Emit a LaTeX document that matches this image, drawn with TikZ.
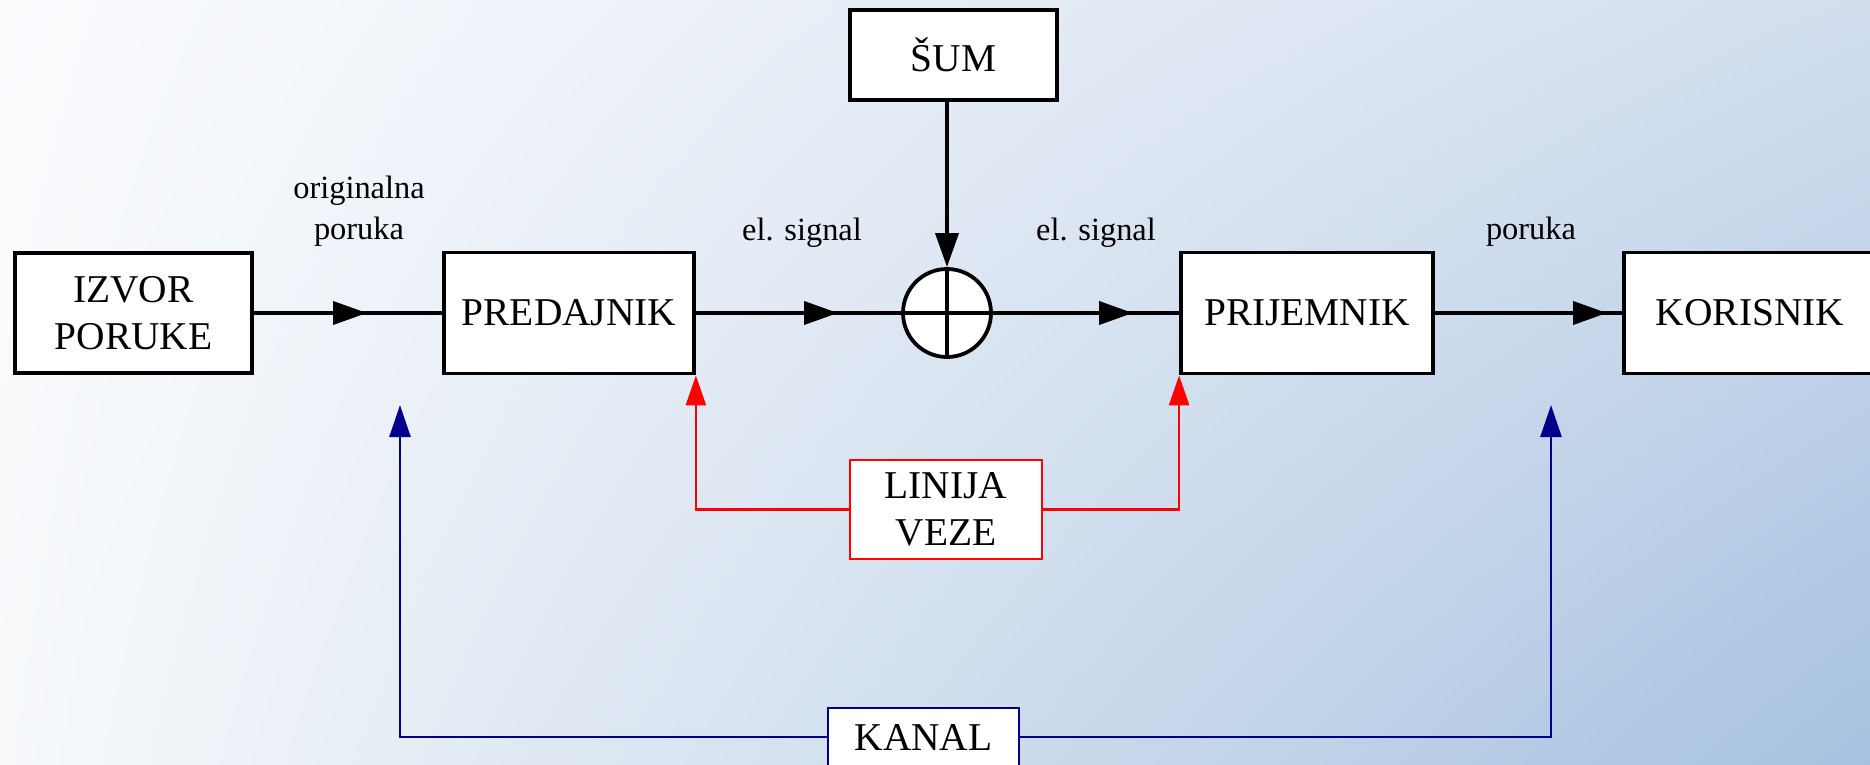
\documentclass[tikz,border=0pt]{standalone}
\usepackage{fontspec}
\setmainfont{Liberation Serif}
\usetikzlibrary{arrows.meta,shadings}
\definecolor{bgUL}{HTML}{FBFCFE}
\definecolor{bgUR}{HTML}{D2DEEE}
\definecolor{bgLL}{HTML}{F7F9FB}
\definecolor{bgLR}{HTML}{A6C1E0}
\definecolor{kanalblue}{RGB}{0,0,140}
\definecolor{linred}{RGB}{255,0,0}
\newcommand\bigfnt{\fontsize{19.7}{23.5}\selectfont}
\newcommand\smallfnt{\fontsize{16.2}{20.5}\selectfont}
\begin{document}
\begin{tikzpicture}[x=0.5pt,y=-0.5pt,
  blockbox/.style={draw=black, line width=1.9pt, fill=white, font=\bigfnt, align=center, inner sep=0pt},
  redbox/.style={draw=linred, line width=1.3pt, fill=white, font=\bigfnt, align=center, inner sep=0pt},
  bluebox/.style={draw=kanalblue, line width=1.3pt, fill=white, font=\bigfnt, align=center, inner sep=0pt},
  sigline/.style={draw=black, line width=1.9pt},
  sigarrow/.style={draw=black, line width=1.9pt, -{Triangle[length=17pt,width=11.5pt]}},
  redarrow/.style={draw=linred, line width=1.3pt, -{Triangle[length=15pt,width=10pt]}},
  bluearrow/.style={draw=kanalblue, line width=1.3pt, -{Triangle[length=16pt,width=10.5pt]}},
  lbl/.style={font=\smallfnt, align=center, inner sep=0pt}
]
\useasboundingbox (0,0) rectangle (1870,765);
\clip (0,0) rectangle (1870,765);
\shade[upper left=bgUL, upper right=bgUR, lower left=bgLL, lower right=bgLR] (0,0) rectangle (1870,765);

% blocks
\node[blockbox, minimum width=118.5pt, minimum height=60pt] (izvor) at (133.5,313) {IZVOR\\PORUKE};
\node[blockbox, minimum width=125pt, minimum height=60.5pt] (pred) at (569,313) {PREDAJNIK};
\node[blockbox, minimum width=126pt, minimum height=60.5pt] (prij) at (1307,313) {PRIJEMNIK};
\node[blockbox, minimum width=126pt, minimum height=60.5pt] (kor) at (1750,313) {KORISNIK};
\node[blockbox, minimum width=103.5pt, minimum height=45pt] (sum) at (953.5,55) {ŠUM};
\node[circle, draw=black, line width=1.9pt, fill=white, minimum size=44pt, inner sep=0pt] (add) at (947,313) {};
\node[redbox, minimum width=96pt, minimum height=49.5pt] (lin) at (946,509.5) {LINIJA\\VEZE};
\node[bluebox, minimum width=95.5pt, minimum height=29pt] (kanal) at (923.5,737) {KANAL};

% arrow tip positions
\coordinate (t1) at (367,313);
\coordinate (t2) at (838,313);
\coordinate (t3) at (1133,313);
\coordinate (t4) at (1607,313);
\coordinate (b1) at (400,405);
\coordinate (b2) at (1551,405);

% signal path
\draw[sigline] (izvor.east) -- (pred.west);
\draw[sigarrow] (izvor.east) -- (t1);
\draw[sigline] (pred.east) -- (add.west);
\draw[sigarrow] (pred.east) -- (t2);
\draw[sigline] (add.east) -- (prij.west);
\draw[sigarrow] (add.east) -- (t3);
\draw[sigline] (prij.east) -- (kor.west);
\draw[sigarrow] (prij.east) -- (t4);
\draw[sigarrow] (sum.south -| add.north) -- (add.north);
\draw[sigline] (add.north) -- (add.south);
\draw[sigline] (add.west) -- (add.east);

% line of connection
\draw[redarrow] (lin.west) -| (pred.south east);
\draw[redarrow] (lin.east) -| (prij.south west);

% channel
\draw[bluearrow] (kanal.west) -| (b1);
\draw[bluearrow] (kanal.east) -| (b2);

% labels
\node[lbl] (l1) at (359,211) {originalna\\poruka};
\node[lbl, anchor=base] (l2) at (802,241) {el. signal};
\node[lbl, anchor=base] (l3) at (1096,241) {el. signal};
\node[lbl, anchor=base] (l4) at (1531,239) {poruka};
\end{tikzpicture}
\end{document}
